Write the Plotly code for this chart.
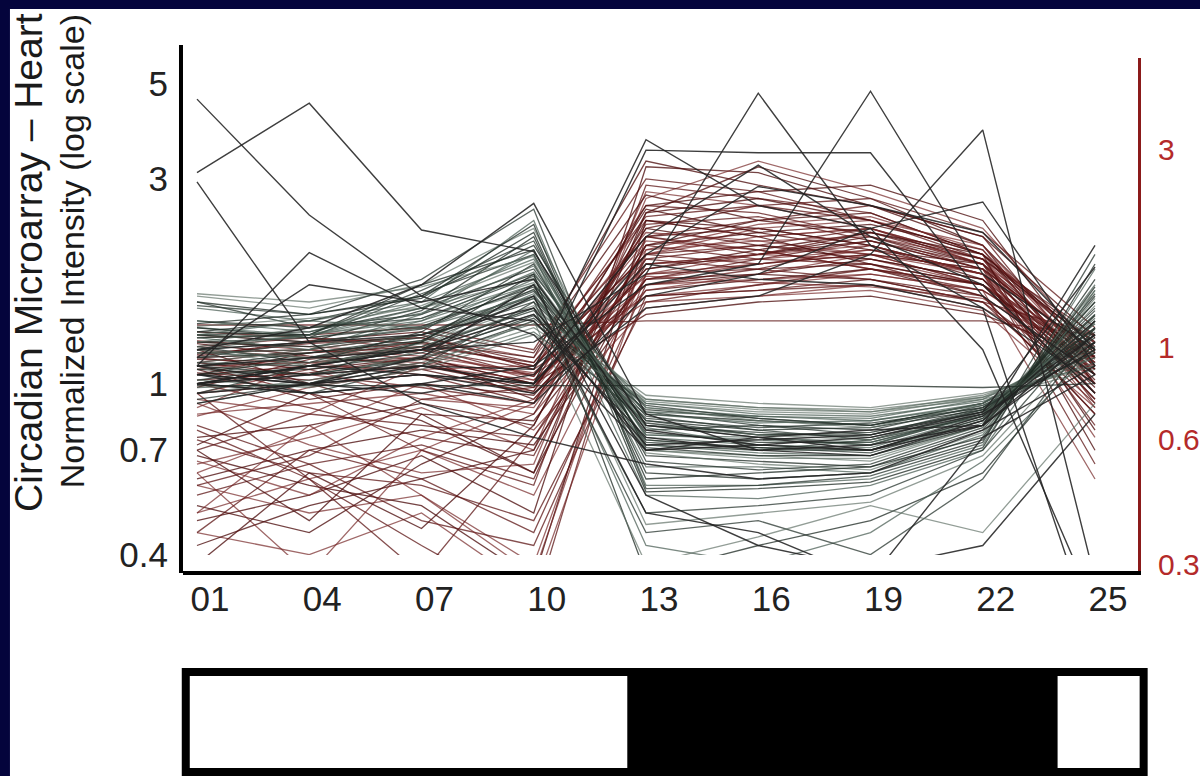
import plotly.graph_objects as go

# ---------------- data ----------------
hours = [1, 4, 7, 10, 13, 16, 19, 22, 25]
hour_labels = ["01", "04", "07", "10", "13", "16", "19", "22", "25"]

left_ticks = [0.4, 0.7, 1, 3, 5]
left_tick_text = ["0.4", "0.7", "1", "3", "5"]
right_ticks = [0.3, 0.6, 1, 3]
right_tick_text = ["0.3", "0.6", "1", "3"]

# light / dark schedule (hours)
light_start = 0.7
dark_start = 12.5
dark_end = 24.0
light_end = 26.3

# genes peaking in the light phase (drop at night) - black/grey traces
black_genes = [
    [1.55, 1.45, 1.60, 2.10, 0.80, 0.75, 0.72, 0.85, 1.45],
    [1.50, 1.40, 1.55, 1.95, 0.75, 0.72, 0.70, 0.82, 1.55],
    [1.30, 1.32, 1.50, 1.85, 0.78, 0.80, 0.76, 0.88, 1.35],
    [1.60, 1.50, 1.70, 2.30, 0.70, 0.68, 0.66, 0.80, 1.65],
    [1.40, 1.35, 1.45, 1.80, 0.85, 0.82, 0.80, 0.90, 1.30],
    [1.35, 1.30, 1.40, 1.70, 0.88, 0.84, 0.83, 0.92, 1.25],
    [1.25, 1.28, 1.62, 2.00, 0.72, 0.70, 0.74, 0.84, 1.50],
    [1.30, 1.28, 1.38, 1.65, 0.90, 0.86, 0.85, 0.93, 1.20],
    [1.25, 1.22, 1.30, 1.60, 0.82, 0.78, 0.79, 0.87, 1.28],
    [1.20, 1.25, 1.35, 1.75, 0.76, 0.74, 0.72, 0.86, 1.38],
    [1.15, 1.18, 1.28, 1.55, 0.86, 0.80, 0.78, 0.89, 1.18],
    [1.10, 1.15, 1.22, 1.50, 0.92, 0.88, 0.86, 0.94, 1.15],
    [1.22, 1.12, 1.32, 1.90, 0.68, 0.66, 0.64, 0.78, 1.60],
    [1.18, 1.20, 1.45, 2.05, 0.64, 0.64, 0.62, 0.76, 1.70],
    [1.12, 1.10, 1.25, 1.58, 0.80, 0.77, 0.75, 0.86, 1.32],
    [1.08, 1.12, 1.20, 1.45, 0.94, 0.90, 0.88, 0.95, 1.10],
    [1.05, 1.08, 1.18, 1.42, 0.87, 0.83, 0.80, 0.90, 1.22],
    [1.00, 1.05, 1.15, 1.38, 0.90, 0.85, 0.84, 0.91, 1.12],
    [1.02, 1.10, 1.22, 1.48, 0.83, 0.79, 0.81, 0.88, 1.25],
    [0.95, 1.02, 1.12, 1.35, 0.91, 0.87, 0.86, 0.92, 1.08],
    [1.30, 1.25, 1.48, 2.20, 0.62, 0.60, 0.62, 0.74, 1.75],
    [1.40, 1.32, 1.55, 2.40, 0.58, 0.58, 0.60, 0.72, 1.85],
    [1.52, 1.45, 1.75, 2.55, 0.57, 0.58, 0.61, 0.73, 2.00],
    [1.28, 1.30, 1.42, 1.72, 0.74, 0.70, 0.70, 0.83, 1.40],
    [1.35, 1.28, 1.36, 1.68, 0.77, 0.73, 0.73, 0.85, 1.35],
    [1.18, 1.15, 1.26, 1.62, 0.72, 0.69, 0.68, 0.81, 1.45],
    [1.28, 1.30, 1.65, 2.15, 0.66, 0.63, 0.65, 0.79, 1.62],
    [1.25, 1.35, 1.52, 1.92, 0.70, 0.67, 0.67, 0.80, 1.52],
    [1.08, 1.05, 1.14, 1.40, 0.81, 0.76, 0.77, 0.86, 1.20],
    [0.98, 1.00, 1.10, 1.32, 0.85, 0.81, 0.82, 0.89, 1.15],
    [1.55, 1.35, 1.42, 1.78, 0.73, 0.71, 0.69, 0.82, 1.48],
    [1.62, 1.55, 1.68, 1.98, 0.69, 0.65, 0.63, 0.77, 1.58],
    [1.38, 1.45, 1.58, 2.25, 0.60, 0.62, 0.64, 0.75, 1.68],
    [1.12, 1.20, 1.40, 1.82, 0.79, 0.72, 0.71, 0.84, 1.42],
    [1.05, 1.15, 1.30, 1.64, 0.84, 0.78, 0.74, 0.87, 1.30],
    [1.20, 1.10, 1.24, 1.52, 0.88, 0.82, 0.79, 0.90, 1.20],
    [1.32, 1.40, 1.60, 2.35, 0.56, 0.57, 0.59, 0.71, 1.90],
    [1.22, 1.30, 1.46, 1.88, 0.76, 0.75, 0.73, 0.84, 1.40],
    [1.15, 1.25, 1.34, 1.70, 0.82, 0.76, 0.76, 0.87, 1.34],
    [1.02, 0.98, 1.08, 1.30, 0.92, 0.88, 0.87, 0.93, 1.10],
    [1.32, 1.30, 1.70, 2.05, 0.71, 0.68, 0.68, 0.80, 1.55],
    [1.28, 1.20, 1.30, 1.58, 0.86, 0.84, 0.82, 0.90, 1.22],
    [0.92, 1.00, 1.16, 1.44, 0.89, 0.83, 0.80, 0.88, 1.18],
    [1.36, 1.42, 1.50, 1.76, 0.80, 0.76, 0.74, 0.85, 1.38],
    [1.10, 1.18, 1.26, 1.66, 0.74, 0.71, 0.70, 0.83, 1.44],
    [1.20, 1.30, 1.50, 2.00, 0.55, 0.54, 0.58, 0.70, 1.65],
    [1.00, 0.95, 1.10, 1.55, 0.50, 0.52, 0.55, 0.70, 1.40],
    [0.90, 1.00, 1.20, 1.70, 0.47, 0.50, 0.53, 0.68, 1.30],
    [1.10, 1.05, 1.25, 1.80, 0.36, 0.42, 0.48, 0.62, 1.25],
    [1.30, 1.40, 1.35, 1.60, 0.42, 0.38, 0.45, 0.66, 1.20],
    [0.95, 1.10, 1.20, 1.50, 0.45, 0.48, 0.40, 0.60, 1.35],
    [1.20, 1.15, 1.10, 1.40, 0.38, 0.44, 0.52, 0.45, 0.90],
    [0.99, 0.99, 0.99, 0.99, 0.99, 0.99, 0.99, 0.98, 1.00],
]

# genes peaking in the dark phase - dark red traces
red_genes = [
    [1.20, 1.15, 1.25, 1.10, 2.00, 2.10, 2.00, 1.70, 1.15],
    [1.25, 1.22, 1.18, 1.05, 1.90, 1.95, 2.05, 1.80, 1.20],
    [1.15, 1.18, 1.22, 1.12, 2.20, 2.30, 2.10, 1.75, 1.10],
    [1.10, 1.12, 1.15, 1.00, 1.80, 1.85, 1.90, 1.60, 1.05],
    [1.30, 1.25, 1.28, 1.15, 2.40, 2.20, 2.30, 1.90, 1.25],
    [1.05, 1.10, 1.08, 0.95, 1.70, 1.80, 1.75, 1.55, 1.00],
    [1.18, 1.20, 1.30, 1.08, 2.60, 2.50, 2.20, 1.85, 1.18],
    [1.22, 1.28, 1.20, 1.02, 1.60, 1.70, 1.80, 1.65, 1.12],
    [1.12, 1.05, 1.10, 0.98, 2.10, 2.40, 2.50, 2.00, 1.22],
    [1.28, 1.30, 1.35, 1.20, 3.00, 2.80, 2.40, 1.95, 1.30],
    [1.08, 1.15, 1.12, 1.05, 1.55, 1.60, 1.70, 1.50, 1.08],
    [1.15, 1.08, 1.15, 0.92, 1.85, 2.00, 2.20, 1.90, 1.15],
    [0.95, 1.00, 1.05, 0.90, 2.30, 2.60, 2.40, 2.00, 1.05],
    [0.85, 0.90, 0.95, 0.85, 1.75, 1.90, 2.00, 1.70, 0.95],
    [0.75, 0.80, 0.90, 0.80, 2.50, 3.20, 2.70, 2.10, 1.00],
    [0.70, 0.85, 0.80, 0.75, 1.95, 2.10, 2.30, 1.95, 0.90],
    [0.65, 0.75, 0.88, 0.70, 2.80, 2.60, 2.30, 1.90, 1.10],
    [0.60, 0.70, 0.78, 0.72, 1.65, 1.75, 1.85, 1.60, 0.85],
    [0.55, 0.65, 0.72, 0.60, 2.20, 2.40, 2.60, 2.20, 1.05],
    [0.50, 0.60, 0.70, 0.55, 1.80, 2.00, 1.95, 1.70, 0.95],
    [0.48, 0.55, 0.68, 0.50, 3.20, 3.10, 2.60, 2.10, 1.15],
    [0.45, 0.70, 0.60, 0.45, 1.70, 1.85, 2.10, 1.80, 0.80],
    [0.58, 0.50, 0.55, 0.38, 2.00, 2.20, 2.30, 1.95, 1.00],
    [0.68, 0.58, 0.52, 0.35, 2.40, 2.30, 2.10, 1.80, 1.12],
    [0.80, 0.65, 0.48, 0.42, 1.60, 1.65, 1.75, 1.55, 0.90],
    [0.90, 0.72, 0.62, 0.65, 2.70, 3.30, 2.80, 2.30, 1.20],
    [0.72, 0.95, 0.82, 0.62, 1.90, 2.00, 2.15, 1.85, 1.02],
    [1.00, 0.88, 0.75, 0.68, 2.10, 1.95, 1.90, 1.70, 1.08],
    [0.62, 0.78, 1.00, 0.78, 1.50, 1.60, 1.65, 1.48, 0.88],
    [0.52, 0.45, 0.65, 0.85, 2.30, 2.10, 1.95, 1.75, 0.98],
    [1.10, 0.95, 0.70, 0.58, 2.90, 2.70, 2.50, 2.00, 1.25],
    [0.95, 1.08, 0.92, 0.88, 2.00, 2.30, 2.40, 2.10, 1.10],
    [1.20, 1.00, 0.85, 0.82, 1.75, 1.80, 1.95, 1.75, 0.92],
    [0.78, 0.60, 0.42, 0.30, 2.20, 2.00, 2.25, 1.90, 1.05],
    [0.45, 0.40, 0.50, 0.33, 1.80, 1.90, 2.05, 1.80, 0.95],
    [1.05, 1.18, 1.25, 1.15, 3.30, 2.90, 2.60, 2.20, 1.28],
    [1.14, 1.12, 1.20, 1.08, 1.60, 1.65, 1.70, 1.55, 1.30],
    [1.26, 1.20, 1.14, 1.04, 2.15, 2.05, 1.85, 1.70, 1.20],
    [1.02, 1.06, 1.15, 1.00, 1.45, 1.55, 1.60, 1.45, 1.15],
    [1.17, 1.24, 1.28, 1.12, 2.45, 2.60, 2.70, 2.25, 1.35],
    [0.88, 1.12, 1.05, 0.96, 2.05, 2.15, 2.00, 1.80, 0.75],
    [1.08, 0.92, 1.00, 0.94, 1.85, 2.05, 2.25, 2.00, 0.70],
    [1.00, 1.05, 0.98, 0.90, 2.35, 2.45, 2.15, 1.85, 0.65],
    [0.92, 0.85, 1.10, 1.02, 1.70, 1.75, 1.80, 1.65, 0.60],
    [1.24, 1.16, 1.10, 1.00, 2.55, 2.25, 2.05, 1.90, 0.78],
    [0.58, 0.68, 0.92, 0.98, 1.95, 1.85, 1.75, 1.60, 0.85],
    [0.66, 0.55, 0.75, 0.92, 1.65, 1.80, 2.00, 1.85, 0.88],
    [0.42, 0.52, 0.60, 0.70, 2.10, 2.25, 2.35, 2.05, 1.00],
    [0.74, 0.62, 0.58, 0.48, 1.55, 1.70, 1.85, 1.70, 0.92],
    [0.84, 0.98, 1.08, 1.10, 2.25, 2.15, 2.20, 1.95, 1.12],
    [1.16, 1.26, 1.32, 1.18, 2.75, 2.40, 2.25, 1.95, 1.24],
    [1.32, 1.28, 1.24, 1.10, 2.00, 1.90, 2.00, 1.85, 1.18],
    [1.12, 1.20, 1.16, 1.06, 1.78, 1.72, 1.68, 1.58, 1.14],
    [1.06, 1.02, 1.12, 0.96, 2.60, 2.80, 2.90, 2.40, 1.08],
    [0.98, 1.14, 1.22, 1.04, 2.20, 2.05, 1.85, 1.65, 1.16],
    [0.62, 0.36, 0.70, 0.90, 1.90, 2.00, 2.10, 1.80, 1.00],
    [0.38, 0.62, 0.46, 0.80, 2.40, 2.20, 1.90, 1.70, 1.05],
    [0.95, 0.60, 0.36, 0.75, 1.75, 1.95, 2.15, 1.90, 0.95],
    [0.50, 0.80, 0.55, 0.36, 2.05, 2.35, 2.45, 2.05, 1.10],
    [0.70, 0.48, 0.85, 0.62, 2.50, 2.70, 2.40, 2.00, 1.18],
    [1.37, 1.37, 1.37, 1.37, 1.40, 1.40, 1.40, 1.40, 1.30],
]

# high-amplitude / noisy genes - near-black traces
outlier_genes = [
    [3.10, 4.50, 2.28, 2.03, 0.80, 0.75, 0.70, 0.80, 1.30],
    [4.60, 2.47, 1.60, 1.30, 0.70, 0.72, 0.75, 0.85, 1.20],
    [2.95, 1.25, 0.90, 0.75, 0.65, 0.60, 0.62, 0.78, 1.10],
    [1.10, 2.02, 1.50, 1.40, 0.75, 0.70, 0.72, 0.80, 1.25],
    [1.20, 1.35, 1.70, 2.63, 0.85, 0.70, 0.68, 0.82, 1.40],
    [1.00, 1.10, 1.20, 1.25, 1.80, 4.75, 2.10, 1.50, 1.00],
    [1.05, 0.95, 1.00, 1.10, 1.70, 1.90, 4.80, 1.80, 1.20],
    [1.00, 1.10, 1.05, 0.95, 1.50, 1.60, 2.00, 3.90, 0.35],
    [0.90, 1.00, 1.10, 1.00, 3.50, 3.45, 3.45, 1.60, 1.05],
    [1.10, 1.00, 0.95, 1.05, 2.20, 3.23, 2.20, 1.70, 0.95],
    [1.00, 1.05, 1.10, 1.08, 3.70, 2.60, 2.30, 2.65, 1.10],
    [0.95, 1.00, 1.05, 1.00, 2.00, 2.88, 2.60, 2.25, 1.20],
    [1.00, 0.95, 1.00, 0.90, 1.60, 1.80, 2.30, 1.20, 0.30],
    [1.05, 1.00, 1.05, 1.00, 1.90, 1.75, 1.70, 1.50, 0.25],
    [1.20, 1.25, 1.30, 1.50, 0.70, 0.75, 0.78, 0.80, 2.10],
    [1.10, 1.15, 1.20, 1.45, 0.72, 0.74, 0.76, 0.86, 1.87],
    [1.00, 1.10, 1.20, 1.60, 0.50, 0.45, 0.35, 0.75, 1.05],
    [1.05, 1.00, 1.15, 1.70, 0.55, 0.42, 0.37, 0.42, 0.85],
    [1.15, 1.70, 1.55, 1.75, 0.78, 0.72, 0.70, 0.84, 1.30],
]

# ---------------- styling ----------------
FONT = "Liberation Sans, Arial, sans-serif"
X_RANGE = [0.626, 26.149]
Y_DOMAIN = [0.0304, 1.0]          # data area stops short of the x-axis line
Y_RANGE = [-0.3989, 0.7888]
Y2_DOMAIN = [0.0, 0.9753]
Y2_RANGE = [-0.5388, 0.6975]

black_palette = ["rgba(30,42,36,0.76)", "rgba(72,92,82,0.72)",
                 "rgba(42,55,48,0.76)", "rgba(90,106,96,0.66)"]
red_palette = ["rgba(95,24,24,0.76)", "rgba(118,40,40,0.70)",
               "rgba(78,16,16,0.78)"]
outlier_color = "rgba(35,35,35,0.88)"

fig = go.Figure()

for i, vals in enumerate(red_genes):
    fig.add_trace(go.Scatter(x=hours, y=vals, mode="lines",
                             line=dict(color=red_palette[i % 3], width=1.3),
                             hoverinfo="skip", showlegend=False))
for i, vals in enumerate(black_genes):
    fig.add_trace(go.Scatter(x=hours, y=vals, mode="lines",
                             line=dict(color=black_palette[i % 4], width=1.3),
                             hoverinfo="skip", showlegend=False))
for vals in outlier_genes:
    fig.add_trace(go.Scatter(x=hours, y=vals, mode="lines",
                             line=dict(color=outlier_color, width=1.4),
                             hoverinfo="skip", showlegend=False))

# anchor trace for the right-hand axis
fig.add_trace(go.Scatter(x=[hours[0]], y=[1], yaxis="y2", mode="markers",
                         marker=dict(opacity=0), hoverinfo="skip",
                         showlegend=False))


def hx(h):
    return (h - X_RANGE[0]) / (X_RANGE[1] - X_RANGE[0])


shapes = [
    # white slide area inside the navy frame
    dict(type="rect", xref="paper", yref="paper", x0=-0.1812, x1=1.2,
         y0=-0.6, y1=1.0684, fillcolor="white", line=dict(width=0),
         layer="below"),
    # left axis line (runs down to the x-axis line)
    dict(type="line", xref="paper", yref="paper", x0=-0.0021, x1=-0.0021,
         y0=-0.004, y1=1.0, line=dict(color="black", width=4)),
    # light/dark bar
    dict(type="rect", xref="paper", yref="paper", x0=hx(light_start),
         x1=hx(light_end), y0=-0.382, y1=-0.192, fillcolor="white",
         line=dict(color="black", width=8)),
    dict(type="rect", xref="paper", yref="paper", x0=hx(dark_start),
         x1=hx(dark_end), y0=-0.382, y1=-0.192, fillcolor="black",
         line=dict(width=0)),
]

annotations = [
    dict(text="Circadian Microarray \u2013 Heart", xref="paper", yref="paper",
         x=-0.1613, y=0.5875, textangle=-90, showarrow=False,
         xanchor="center", yanchor="middle",
         font=dict(family=FONT, size=39, color="#1a1a1a")),
    dict(text="Normalized Intensity (log scale)", xref="paper", yref="paper",
         x=-0.1162, y=0.608, textangle=-90, showarrow=False,
         xanchor="center", yanchor="middle",
         font=dict(family=FONT, size=34, color="#1a1a1a")),
]

fig.update_layout(
    width=1200, height=776,
    margin=dict(l=183, r=62, t=45, b=205, autoexpand=False),
    paper_bgcolor="#04043c",
    plot_bgcolor="rgba(0,0,0,0)",
    showlegend=False,
    shapes=shapes,
    annotations=annotations,
    xaxis=dict(range=X_RANGE, anchor="y2", tickmode="array", tickvals=hours,
               ticktext=hour_labels, showgrid=False, zeroline=False,
               showline=True, linecolor="black", linewidth=4, ticks="",
               ticklabelshift=13, ticklabelstandoff=-6, automargin=False,
               tickfont=dict(family=FONT, size=35, color="#222222")),
    yaxis=dict(type="log", domain=Y_DOMAIN, range=Y_RANGE, anchor="x",
               tickmode="array", tickvals=left_ticks,
               ticktext=left_tick_text, showgrid=False, zeroline=False,
               showline=False, ticks="", ticklabelstandoff=14,
               automargin=False,
               tickfont=dict(family=FONT, size=35, color="#222222")),
    yaxis2=dict(type="log", domain=Y2_DOMAIN, range=Y2_RANGE, anchor="x",
                side="right", tickmode="array", tickvals=right_ticks,
                ticktext=right_tick_text, showgrid=False, zeroline=False,
                showline=True, linecolor="#8b1a1a", linewidth=3, ticks="",
                ticklabelstandoff=11, automargin=False,
                tickfont=dict(family=FONT, size=30, color="#b42a2a")),
)

fig.write_html("out.html",
               config={"displayModeBar": False},
               post_script="document.body.style.margin='0px';"
                           "document.body.style.overflow='hidden';")
